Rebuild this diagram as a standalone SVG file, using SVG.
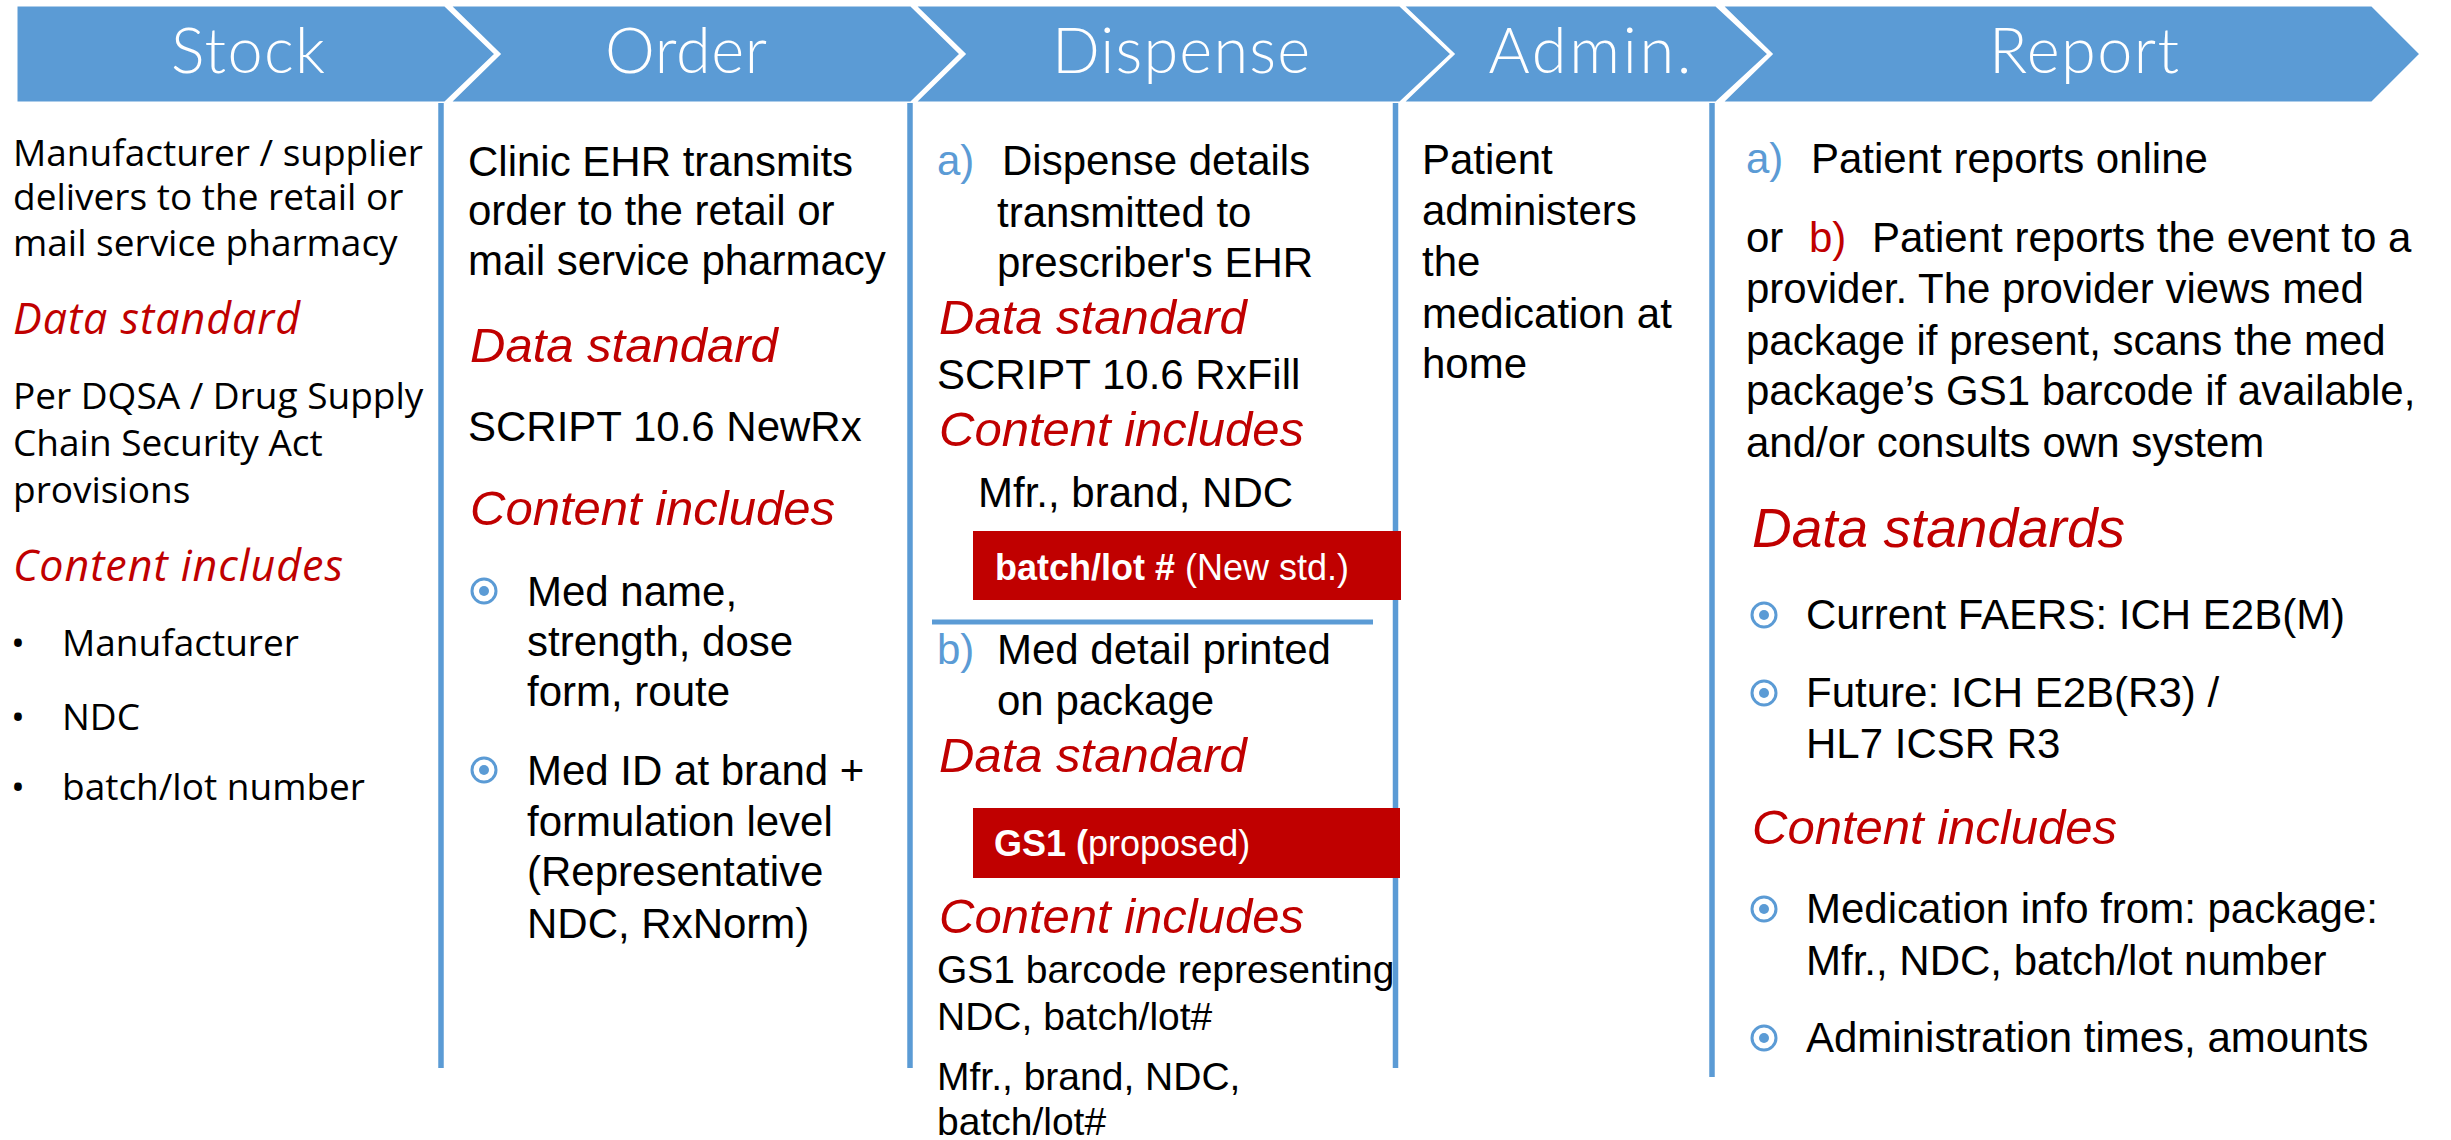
<svg xmlns="http://www.w3.org/2000/svg" width="2451" height="1140" viewBox="0 0 2451 1140">
  <style>
    .chev { fill: #5B9BD5; stroke: #FFFFFF; stroke-width: 3; stroke-linejoin: miter; }
    .hlabel { font-family: Lato, "Open Sans", sans-serif; font-weight: 300; font-size: 63px; fill: #FFFFFF; text-anchor: middle; }
    .sep { stroke: #5B9BD5; stroke-width: 5.5; fill: none; }
    .arial { font-family: "Liberation Sans", Arial, sans-serif; font-size: 42px; fill: #000000; }
    .calib { font-family: "Open Sans", "Liberation Sans", sans-serif; font-size: 37px; fill: #000000; }
    .small { font-size: 39px; }
    .head { font-style: italic; fill: #C00000; }
    .h43 { font-size: 43px; }
    .h49 { font-size: 49px; }
    .h55 { font-size: 55px; }
    .blue { fill: #5B9BD5; }
    .red { fill: #C00000; }
    .tag { fill: #C00000; }
    .tagtext { font-family: "Liberation Sans", Arial, sans-serif; font-size: 36px; fill: #FFFFFF; }
  </style>
  <defs>
    <!-- circled-dot bullet -->
    <symbol id="dotBullet" viewBox="-15 -15 30 30" overflow="visible">
      <circle cx="0" cy="0" r="12" fill="none" stroke="#5B9BD5" stroke-width="3"/>
      <circle cx="0" cy="0" r="5" fill="#5B9BD5"/>
    </symbol>
  </defs>

  <rect width="2451" height="1140" fill="#FFFFFF"/>

  <!-- process header chevrons -->
  <g id="header">
    <g id="step-stock">
      <path class="chev" d="M16,5 L445,5 L496,54 L445,103 L16,103 Z"/>
      <text class="hlabel" x="248" y="73" textLength="154">Stock</text>
    </g>
    <g id="step-order">
      <path class="chev" d="M449,5 L911,5 L961,54 L911,103 L449,103 L499,54 Z"/>
      <text class="hlabel" x="686" y="73" textLength="162">Order</text>
    </g>
    <g id="step-dispense">
      <path class="chev" d="M914,5 L1400,5 L1452,54 L1400,103 L914,103 L964,54 Z"/>
      <text class="hlabel" x="1181" y="73" textLength="258">Dispense</text>
    </g>
    <g id="step-admin">
      <path class="chev" d="M1402,5 L1716,5 L1769,54 L1716,103 L1402,103 L1453,54 Z"/>
      <text class="hlabel" x="1590" y="73" textLength="203">Admin.</text>
    </g>
    <g id="step-report">
      <path class="chev" d="M1721,5 L2372,5 L2421,54 L2372,103 L1721,103 L1771,54 Z"/>
      <text class="hlabel" x="2084" y="73" textLength="190">Report</text>
    </g>
  </g>

  <!-- column separators -->
  <g id="connectors">
    <line class="sep" x1="441" y1="103" x2="441" y2="1068"/>
    <line class="sep" x1="910" y1="103" x2="910" y2="1068"/>
    <line class="sep" x1="1395.5" y1="103" x2="1395.5" y2="1068"/>
    <line class="sep" x1="1712" y1="103" x2="1712" y2="1077"/>
  </g>

  <!-- Stock column -->
  <g id="stock">
    <text class="calib" x="13" y="166">Manufacturer / supplier</text>
    <text class="calib" x="13" y="210">delivers to the retail or</text>
    <text class="calib" x="13" y="256">mail service pharmacy</text>
    <text class="calib head h43" x="13" y="334" textLength="287">Data standard</text>
    <text class="calib" x="13" y="409">Per DQSA / Drug Supply</text>
    <text class="calib" x="13" y="456">Chain Security Act</text>
    <text class="calib" x="13" y="503">provisions</text>
    <text class="calib head h43" x="13" y="581" textLength="330">Content includes</text>
    <text class="calib" x="11" y="656">•</text>
    <text class="calib" x="62" y="656">Manufacturer</text>
    <text class="calib" x="11" y="730">•</text>
    <text class="calib" x="62" y="730">NDC</text>
    <text class="calib" x="11" y="800">•</text>
    <text class="calib" x="62" y="800">batch/lot number</text>
  </g>

  <!-- Order column -->
  <g id="order">
    <text class="arial" x="468" y="176">Clinic EHR transmits</text>
    <text class="arial" x="468" y="225">order to the retail or</text>
    <text class="arial" x="468" y="275">mail service pharmacy</text>
    <text class="arial head h49" x="470" y="362">Data standard</text>
    <text class="arial" x="468" y="441">SCRIPT 10.6 NewRx</text>
    <text class="arial head h49" x="470" y="525">Content includes</text>
    <use href="#dotBullet" x="469" y="576" width="30" height="30"/>
    <text class="arial" x="527" y="606">Med name,</text>
    <text class="arial" x="527" y="656">strength, dose</text>
    <text class="arial" x="527" y="706">form, route</text>
    <use href="#dotBullet" x="469" y="755" width="30" height="30"/>
    <text class="arial" x="527" y="785">Med ID at brand +</text>
    <text class="arial" x="527" y="836">formulation level</text>
    <text class="arial" x="527" y="886">(Representative</text>
    <text class="arial" x="527" y="938">NDC, RxNorm)</text>
  </g>

  <!-- Dispense column -->
  <g id="dispense">
    <text class="arial blue" x="937" y="175">a)</text>
    <text class="arial" x="1002" y="175">Dispense details</text>
    <text class="arial" x="997" y="227">transmitted to</text>
    <text class="arial" x="997" y="277">prescriber's EHR</text>
    <text class="arial head h49" x="939" y="334">Data standard</text>
    <text class="arial" x="937" y="389">SCRIPT 10.6 RxFill</text>
    <text class="arial head h49" x="939" y="446">Content includes</text>
    <text class="arial" x="978" y="507">Mfr., brand, NDC</text>
    <g id="tag-new-std">
      <rect class="tag" x="973" y="531" width="428" height="69"/>
      <text class="tagtext" x="995" y="580"><tspan font-weight="bold">batch/lot #</tspan> (New std.)</text>
    </g>
    <line x1="932" y1="622" x2="1373" y2="622" stroke="#5B9BD5" stroke-width="5"/>
    <text class="arial blue" x="937" y="664">b)</text>
    <text class="arial" x="997" y="664">Med detail printed</text>
    <text class="arial" x="997" y="715">on package</text>
    <text class="arial head h49" x="939" y="772">Data standard</text>
    <g id="tag-gs1">
      <rect class="tag" x="973" y="808" width="427" height="70"/>
      <text class="tagtext" x="994" y="856"><tspan font-weight="bold">GS1 (</tspan>proposed)</text>
    </g>
    <text class="arial head h49" x="939" y="933">Content includes</text>
    <text class="arial small" x="937" y="983">GS1 barcode representing</text>
    <text class="arial small" x="937" y="1030">NDC, batch/lot#</text>
    <text class="arial small" x="937" y="1090">Mfr., brand, NDC,</text>
    <text class="arial small" x="937" y="1135">batch/lot#</text>
  </g>

  <!-- Admin column -->
  <g id="admin">
    <text class="arial" x="1422" y="174">Patient</text>
    <text class="arial" x="1422" y="225">administers</text>
    <text class="arial" x="1422" y="276">the</text>
    <text class="arial" x="1422" y="328">medication at</text>
    <text class="arial" x="1422" y="378">home</text>
  </g>

  <!-- Report column -->
  <g id="report">
    <text class="arial blue" x="1746" y="173">a)</text>
    <text class="arial" x="1811" y="173">Patient reports online</text>
    <text class="arial" x="1746" y="252">or</text>
    <text class="arial red" x="1809" y="252">b)</text>
    <text class="arial" x="1872" y="252">Patient reports the event to a</text>
    <text class="arial" x="1746" y="303">provider. The provider views med</text>
    <text class="arial" x="1746" y="355">package if present, scans the med</text>
    <text class="arial" x="1746" y="405">package’s GS1 barcode if available,</text>
    <text class="arial" x="1746" y="457">and/or consults own system</text>
    <text class="arial head h55" x="1752" y="547">Data standards</text>
    <use href="#dotBullet" x="1749" y="600" width="30" height="30"/>
    <text class="arial" x="1806" y="629">Current FAERS: ICH E2B(M)</text>
    <use href="#dotBullet" x="1749" y="678" width="30" height="30"/>
    <text class="arial" x="1806" y="707">Future: ICH E2B(R3) /</text>
    <text class="arial" x="1806" y="758">HL7 ICSR R3</text>
    <text class="arial head h49" x="1752" y="844">Content includes</text>
    <use href="#dotBullet" x="1749" y="894" width="30" height="30"/>
    <text class="arial" x="1806" y="923">Medication info from: package:</text>
    <text class="arial" x="1806" y="975">Mfr., NDC, batch/lot number</text>
    <use href="#dotBullet" x="1749" y="1023" width="30" height="30"/>
    <text class="arial" x="1806" y="1052">Administration times, amounts</text>
  </g>
</svg>
